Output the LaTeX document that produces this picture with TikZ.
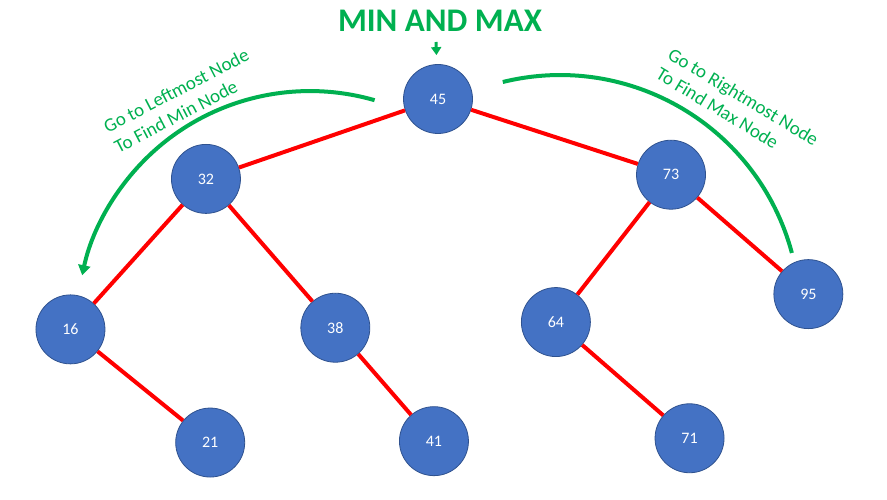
\documentclass[tikz,border=0pt]{standalone}
\usepackage{fontspec}
\setmainfont{Carlito}
\usepackage{tikz}
\usetikzlibrary{arrows.meta}
\definecolor{nodeblue}{RGB}{68,114,196}
\definecolor{nodeedge}{RGB}{47,82,143}
\definecolor{treered}{RGB}{255,0,0}
\definecolor{hintgreen}{RGB}{0,176,80}

\begin{document}
\begin{tikzpicture}[x=1pt,y=1pt,
		bstnode/.style={circle,fill=nodeblue,draw=nodeedge,line width=0.8pt,minimum size=69pt,inner sep=0pt,text=white,font=\fontsize{16}{19}\selectfont},
		hint/.style={text=hintgreen,font=\fontsize{19}{23}\selectfont,align=left},
		walk/.style={draw=hintgreen,line width=4pt}]
		\useasboundingbox (0,0) rectangle (887,499);
		\node[text=hintgreen,font=\fontsize{33}{40}\selectfont\bfseries] (title) at (440,478) {MIN AND MAX};
		\path[sibling distance=0pt,edge from parent/.style={draw=treered,line width=4pt}]
		node[bstnode] (n45) at (438,400) {45}
			child[grow=-161.0,level distance=245.4pt] {node[bstnode] (n32) {32}
				child[grow=-132.2,level distance=202.5pt] {node[bstnode] (n16) {16}
					child[grow=-39.4,level distance=179.8pt] {node[bstnode] (n21) {21}}
				}
				child[grow=-49.5,level distance=197.2pt] {node[bstnode] (n38) {38}
					child[grow=-49.3,level distance=150.3pt] {node[bstnode] (n41) {41}}
				}
			}
			child[grow=-18.6,level distance=245pt] {node[bstnode] (n73) {73}
				child[grow=-128.9,level distance=187pt] {node[bstnode] (n64) {64}
					child[grow=-41.3,level distance=177.1pt] {node[bstnode] (n71) {71}}
				}
				child[grow=-41.5,level distance=182pt] {node[bstnode] (n95) {95}}
			};
		\coordinate (cue) at (436,457);
		\draw[walk,line width=3pt,-{Triangle[width=10pt,length=8pt]},shorten >=9pt] (cue) -- (n45);
		\coordinate (leftstart) at (374.6,398.8);
		\coordinate (rightstart) at (502.8,417);
		\draw[walk,-{Triangle[width=12pt,length=10pt]}] (leftstart) arc[start angle=73.9,end angle=167.9,radius=233pt];
		\draw[walk] (rightstart) arc[start angle=103.8,end angle=15,radius=240pt];
		\node[hint,rotate=27.5] (minhint) at (181.5,398.5) {Go to Leftmost Node\\To Find Min Node};
		\node[hint,rotate=-31] (maxhint) at (737.5,392.4) {Go to Rightmost Node\\To Find Max Node};
\end{tikzpicture}
\end{document}
